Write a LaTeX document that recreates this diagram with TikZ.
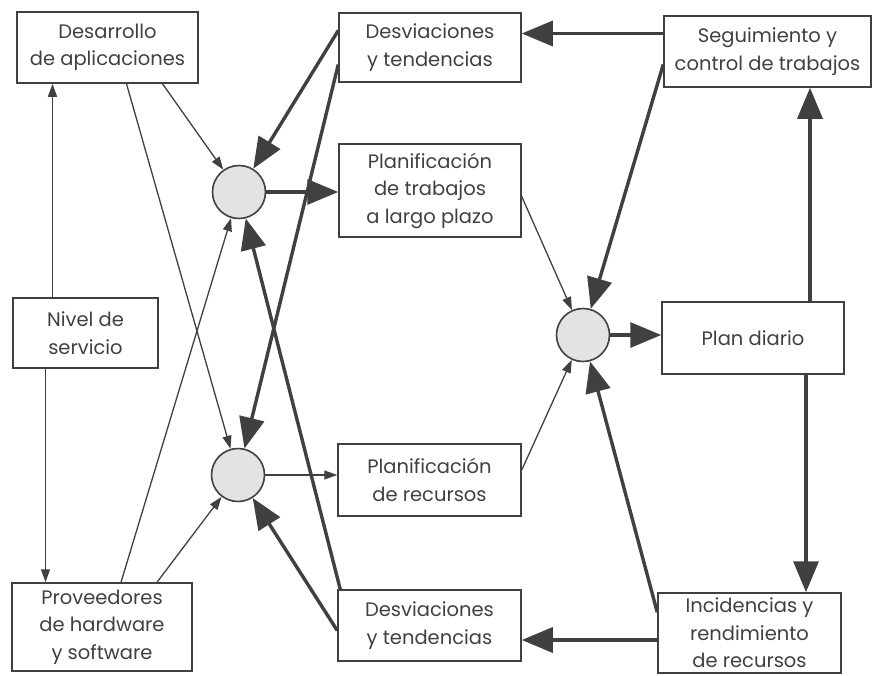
\documentclass[tikz,border=0pt]{standalone}
\usepackage{fontspec}
\setmainfont{Poppins}
\usetikzlibrary{arrows.meta,calc}

\definecolor{ink}{gray}{0.25}

\begin{document}
\begin{tikzpicture}[x=1pt,y=-1pt,
      box/.style={draw=ink,line width=1.5pt,align=center,inner sep=1pt,
        font=\fontsize{19.5}{27.5}\selectfont,text=ink},
      hub/.style={circle,draw=ink,line width=1.6pt,fill=gray!22,
        minimum size=53pt,inner sep=0pt},
      lightflow/.style={draw=ink,line width=1.3pt,-{Triangle[length=13pt,width=9pt]}},
      heavyflow/.style={draw=ink,line width=3.4pt,-{Triangle[length=31pt,width=25pt]}}]
    \useasboundingbox (0,0) rectangle (873,675);

    % left column
    \node[box,minimum width=181pt,minimum height=71pt] (desarrollo) at (107.5,47.5)
      {Desarrollo\\de aplicaciones};
    \node[box,minimum width=145pt,minimum height=70pt] (nivel) at (85.5,333)
      {Nivel de\\servicio};
    \node[box,minimum width=180pt,minimum height=88pt] (proveedores) at (102,627)
      {Proveedores\\de hardware\\y software};

    % middle column
    \node[box,minimum width=182pt,minimum height=69pt] (desvtop) at (430,47.5)
      {Desviaciones\\y tendencias};
    \node[box,minimum width=182pt,minimum height=93pt] (plantrab) at (430,190.5)
      {Planificación\\de trabajos\\a largo plazo};
    \node[box,minimum width=183pt,minimum height=72pt] (planrec) at (429.5,480)
      {Planificación\\de recursos};
    \node[box,minimum width=183pt,minimum height=71pt] (desvbot) at (429.5,625.5)
      {Desviaciones\\y tendencias};

    % right column
    \node[box,minimum width=207pt,minimum height=71pt] (seguim) at (767.5,51.5)
      {Seguimiento y\\control de trabajos};
    \node[box,minimum width=182pt,minimum height=72pt] (plandiario) at (753,338)
      {Plan diario};
    \node[box,minimum width=183pt,minimum height=80pt] (incid) at (749.5,633)
      {Incidencias y\\rendimiento\\de recursos};

    % junctions
    \node[hub] (c1) at (239,192) {};
    \node[hub] (c2) at (238,475) {};
    \node[hub] (c3) at (583,335) {};

    % thin flows
    \draw[lightflow] ([xshift=-33pt]nivel.north) -- ([xshift=-33pt]nivel.north |- desarrollo.south);
    \draw[lightflow] ([xshift=-40pt]nivel.south) -- ([xshift=-40pt]nivel.south |- proveedores.north);
    \draw[lightflow] ([xshift=55pt]desarrollo.south) -- (c1);
    \draw[lightflow] ([xshift=19pt]desarrollo.south) -- (c2);
    \draw[lightflow] ([xshift=19pt]proveedores.north) -- (c1);
    \draw[lightflow] ([xshift=55pt]proveedores.north) -- (c2);
    \draw[lightflow] (c2.east) -- (c2.east -| planrec.west);
    \draw[lightflow] ([yshift=-6pt]plantrab.east) -- (c3);
    \draw[lightflow] ([yshift=10pt]planrec.east) -- (c3);

    % thick flows
    \draw[heavyflow] (c1.east) -- (c1.east -| plantrab.west);
    \draw[heavyflow] ([yshift=17pt]desvtop.west) -- (c1);
    \draw[heavyflow] ([yshift=-17pt]desvtop.west) -- (c2);
    \draw[heavyflow] ([xshift=3pt]desvbot.north west) -- (c1);
    \draw[heavyflow] ([yshift=-5pt]desvbot.west) -- (c2);
    \draw[heavyflow] ([yshift=18pt]seguim.west) -- ([yshift=18pt]seguim.west -| desvtop.east);
    \draw[heavyflow] ([yshift=-13pt]seguim.west) -- (c3);
    \draw[heavyflow] ([xshift=57pt]plandiario.north) -- ([xshift=57pt]plandiario.north |- seguim.south);
    \draw[heavyflow] ([xshift=53pt]plandiario.south) -- ([xshift=53pt]plandiario.south |- incid.north);
    \draw[heavyflow] (c3.east) -- (c3.east -| plandiario.west);
    \draw[heavyflow] ([yshift=-20pt]incid.north west) -- (c3);
    \draw[heavyflow] ([yshift=-7pt]incid.west) -- ([yshift=-7pt]incid.west -| desvbot.east);
\end{tikzpicture}
\end{document}
